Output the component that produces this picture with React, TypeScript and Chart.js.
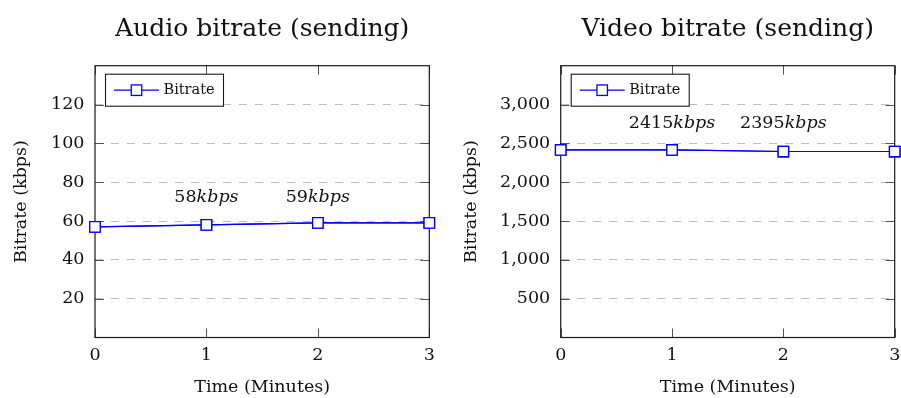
import React, { useEffect, useRef } from "react";
import { Chart, registerables } from "chart.js";

Chart.register(...registerables);

// ---- data ----
const minutes = [0, 1, 2, 3];
const audioBitrate = [57, 58, 59, 59];
const videoBitrate = [2415, 2415, 2395, 2395];
const xTicks = [0, 1, 2, 3];
const audioYTicks = [20, 40, 60, 80, 100, 120];
const videoYTicks = [500, 1000, 1500, 2000, 2500, 3000];
const audioNoteIdx = [1, 2];
const videoNoteIdx = [1, 2];

const FONT = "'DejaVu Serif', serif";
const BLUE = "#0000ff";

type Cfg = {
  title: string;
  values: number[];
  yMax: number;
  yTicks: number[];
  noteIdx: number[];
  noteY: number;
  yAxisWidth: number;
  padRight: number;
  comma: boolean;
};

const decorPlugin = {
  id: "decor",
  afterDraw(chart: any, _args: any, opts: any) {
    const { ctx, chartArea: a } = chart;
    const xs = chart.scales.x;
    const ys = chart.scales.y;
    ctx.save();
    // tick marks (inward, all sides)
    ctx.strokeStyle = "#555";
    ctx.lineWidth = 1;
    const tl = 9;
    ctx.beginPath();
    xs.ticks.forEach((t: any) => {
      const px = Math.round(xs.getPixelForValue(t.value)) + 0.5;
      ctx.moveTo(px, a.bottom);
      ctx.lineTo(px, a.bottom - tl);
      ctx.moveTo(px, a.top);
      ctx.lineTo(px, a.top + tl);
    });
    ys.ticks.forEach((t: any) => {
      const py = Math.round(ys.getPixelForValue(t.value)) + 0.5;
      ctx.moveTo(a.left, py);
      ctx.lineTo(a.left + tl, py);
      ctx.moveTo(a.right, py);
      ctx.lineTo(a.right - tl, py);
    });
    ctx.stroke();
    // frame
    ctx.strokeStyle = "#1a1a1a";
    ctx.lineWidth = 1.2;
    ctx.strokeRect(a.left, a.top, a.right - a.left, a.bottom - a.top);
    ctx.restore();

    // re-draw dataset on top of the frame
    ctx.save();
    const meta = chart.getDatasetMeta(0);
    meta.dataset.draw(ctx, { left: 0, top: 0, right: chart.width, bottom: chart.height });
    meta.data.forEach((p: any) => p.draw(ctx));
    ctx.restore();

    // legend box
    const ds = chart.data.datasets[0];
    ctx.save();
    const lx = a.left + 10.5;
    const ly = a.top + 8.5;
    const lw = 118;
    const lh = 32;
    ctx.fillStyle = "#fff";
    ctx.fillRect(lx, ly, lw, lh);
    ctx.strokeStyle = "#1a1a1a";
    ctx.lineWidth = 1.1;
    ctx.strokeRect(lx, ly, lw, lh);
    const cy = ly + lh / 2;
    ctx.strokeStyle = BLUE;
    ctx.lineWidth = 1.2;
    ctx.beginPath();
    ctx.moveTo(lx + 8.5, cy);
    ctx.lineTo(lx + 53.5, cy);
    ctx.stroke();
    const s = 10.5;
    ctx.fillStyle = "#fff";
    ctx.fillRect(lx + 31 - s / 2, cy - s / 2, s, s);
    ctx.lineWidth = 1.3;
    ctx.strokeRect(lx + 31 - s / 2, cy - s / 2, s, s);
    ctx.fillStyle = "#111";
    ctx.font = `14.5px ${FONT}`;
    ctx.textBaseline = "middle";
    ctx.textAlign = "left";
    ctx.fillText(ds.label, lx + 58, cy + 0.5);
    ctx.restore();

    // annotations
    ctx.save();
    ctx.fillStyle = "#111";
    ctx.textBaseline = "alphabetic";
    ctx.textAlign = "left";
    (opts.noteIdx as number[]).forEach((i) => {
      const num = String(ds.data[i]);
      const unit = "kbps";
      ctx.font = `17.5px ${FONT}`;
      const w1 = ctx.measureText(num).width;
      ctx.font = `italic 17.5px ${FONT}`;
      const w2 = ctx.measureText(unit).width;
      const px = xs.getPixelForValue(chart.data.labels[i]);
      const py = ys.getPixelForValue(opts.noteY);
      const x0 = px - (w1 + w2) / 2;
      ctx.font = `17.5px ${FONT}`;
      ctx.fillText(num, x0, py);
      ctx.font = `italic 17.5px ${FONT}`;
      ctx.fillText(unit, x0 + w1, py);
    });
    ctx.restore();
  },
};

function buildChart(canvas: HTMLCanvasElement, cfg: Cfg) {
  return new Chart(canvas, {
    type: "line",
    data: {
      labels: minutes,
      datasets: [
        {
          label: "Bitrate",
          data: cfg.values,
          borderColor: BLUE,
          borderWidth: 1.2,
          backgroundColor: "#fff",
          pointStyle: "rect",
          pointRadius: 7.4,
          pointBorderWidth: 1.3,
          pointBorderColor: BLUE,
          pointBackgroundColor: "#fff",
          tension: 0,
          clip: false as any,
        },
      ],
    },
    options: {
      animation: false,
      responsive: false,
      events: [],
      layout: {
        autoPadding: false,
        padding: { left: 0, right: cfg.padRight, top: 0, bottom: 0 },
      },
      plugins: {
        legend: { display: false },
        tooltip: { enabled: false },
        title: {
          display: true,
          text: cfg.title,
          fullSize: false,
          color: "#111",
          font: { family: FONT, size: 25, weight: "normal" as any, lineHeight: 1.2 },
          padding: { top: 14.5, bottom: 21.2 },
        },
        decor: { noteIdx: cfg.noteIdx, noteY: cfg.noteY },
      } as any,
      scales: {
        x: {
          type: "linear",
          min: 0,
          max: 3,
          afterBuildTicks: (s: any) => {
            s.ticks = xTicks.map((v) => ({ value: v }));
          },
          afterFit: (s: any) => {
            s.height = 60.5;
            s.paddingLeft = 0;
            s.paddingRight = 0;
          },
          grid: { display: false, drawTicks: false },
          border: { display: false },
          ticks: {
            color: "#111",
            padding: 7,
            font: { family: FONT, size: 17.5 },
            maxRotation: 0,
          },
          title: {
            display: true,
            text: "Time (Minutes)",
            color: "#111",
            font: { family: FONT, size: 17.5 },
            padding: { top: 0, bottom: 0.5 },
          },
        },
        y: {
          type: "linear",
          min: 0,
          max: cfg.yMax,
          afterBuildTicks: (s: any) => {
            s.ticks = cfg.yTicks.map((v) => ({ value: v }));
          },
          afterFit: (s: any) => {
            s.width = cfg.yAxisWidth;
            s.paddingTop = 0;
            s.paddingBottom = 0;
          },
          grid: { color: "#bdbdbd", lineWidth: 1, drawTicks: false },
          border: { display: false, dash: [8, 8] },
          ticks: {
            color: "#111",
            padding: 10.5,
            font: { family: FONT, size: 17.5 },
            callback: (v: any) => (cfg.comma ? Number(v).toLocaleString("en-US") : String(v)),
          },
          title: {
            display: true,
            text: "Bitrate (kbps)",
            color: "#111",
            font: { family: FONT, size: 17.5 },
            padding: { top: 10.5, bottom: 0 },
          },
        },
      },
    },
    plugins: [decorPlugin],
  });
}

function ChartBox({ cfg, left, width }: { cfg: Cfg; left: number; width: number }) {
  const ref = useRef<HTMLCanvasElement>(null);
  useEffect(() => {
    const canvas = ref.current!;
    const chart = buildChart(canvas, cfg);
    return () => chart.destroy();
  }, [cfg]);
  return (
    <canvas
      ref={ref}
      width={width}
      height={398}
      style={{ position: "absolute", left, top: 0, width, height: 398, display: "block" }}
    />
  );
}

const audioCfg: Cfg = {
  title: "Audio bitrate (sending)",
  values: audioBitrate,
  yMax: 140,
  yTicks: audioYTicks,
  noteIdx: audioNoteIdx,
  noteY: 70,
  yAxisWidth: 95,
  padRight: 20.7,
  comma: false,
};

const videoCfg: Cfg = {
  title: "Video bitrate (sending)",
  values: videoBitrate,
  yMax: 3500,
  yTicks: videoYTicks,
  noteIdx: videoNoteIdx,
  noteY: 2700,
  yAxisWidth: 110.7,
  padRight: 6.3,
  comma: true,
};

export default function App() {
  return (
    <div
      style={{
        position: "fixed",
        left: 0,
        top: 0,
        width: 901,
        height: 398,
        background: "#fff",
        overflow: "hidden",
      }}
    >
      <ChartBox cfg={audioCfg} left={0} width={450} />
      <ChartBox cfg={videoCfg} left={450} width={451} />
    </div>
  );
}
